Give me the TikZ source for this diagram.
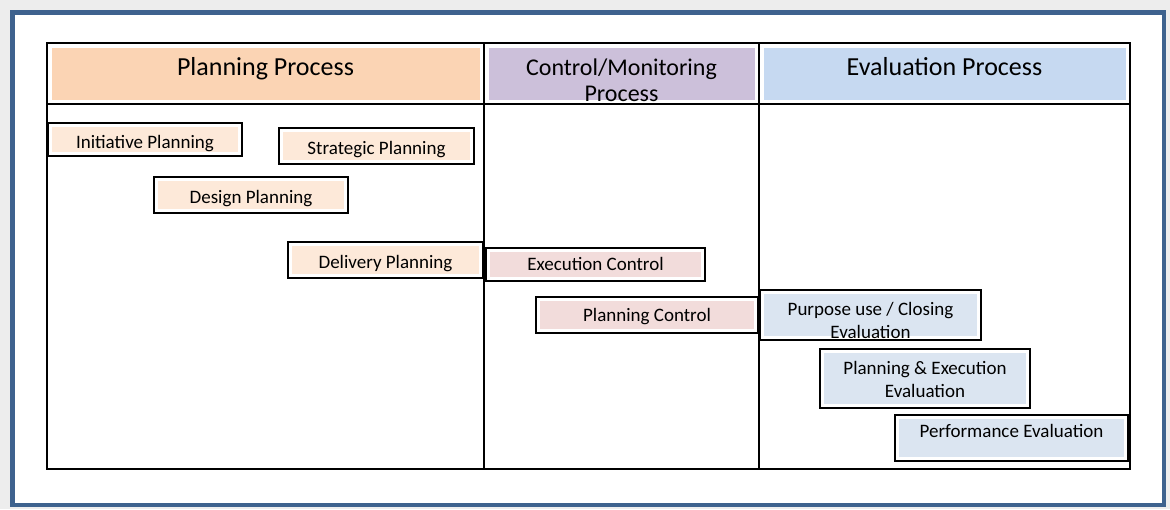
\documentclass[tikz,border=0pt]{standalone}
\usepackage{fontspec}
\setmainfont{Carlito}
\definecolor{planhead}{RGB}{251,212,180}
\definecolor{ctrlhead}{RGB}{204,192,218}
\definecolor{evalhead}{RGB}{198,217,241}
\definecolor{planfill}{RGB}{253,233,217}
\definecolor{ctrlfill}{RGB}{242,220,219}
\definecolor{evalfill}{RGB}{219,229,241}
\definecolor{frameblue}{RGB}{62,98,142}
\newcommand{\insetfill}[2]{\fill[#1] ([shift={(#2,-#2)}]path picture bounding box.north west) rectangle ([shift={(-#2,#2)}]path picture bounding box.south east);}

\begin{document}
\begin{tikzpicture}[x=1pt, y=-1pt]
        \tikzstyle{cell}=[draw, line width=2pt, inner sep=0pt, fill=white]
        \tikzstyle{head}=[cell, minimum height=61pt]
        \tikzstyle{title}=[anchor=base, inner sep=0pt, font=\fontsize{26}{29}\selectfont]
        \tikzstyle{task}=[draw, line width=2.4pt, fill=white, inner sep=0pt, minimum height=36pt, align=center, font=\fontsize{19}{22.5}\selectfont]
        \tikzstyle{planbox}=[task, text height=17pt, text depth=0pt, path picture={\insetfill{planfill}{4pt}}]
        \tikzstyle{ctrlbox}=[task, text height=12.5pt, text depth=0pt, path picture={\insetfill{ctrlfill}{4pt}}]
        \tikzstyle{evalbox}=[task, path picture={\insetfill{evalfill}{4pt}}]

        \useasboundingbox (0,0) rectangle (1170,509);
        \fill[gray!14] (0,0) rectangle (1170,509);
        \draw[frameblue, line width=4.5pt, fill=white] (12.5,12.5) rectangle (1164,505);

        % columns
        \node[cell, minimum width=437pt, minimum height=365pt] (cplan) at (265.5,286.5) {};
        \node[cell, minimum width=275pt, minimum height=365pt] (cctrl) at (621.5,286.5) {};
        \node[cell, minimum width=371pt, minimum height=365pt] (ceval) at (944.5,286.5) {};

        % header row
        \node[head, minimum width=437pt, path picture={\insetfill{planhead}{4.5pt}}] (hplan) at (265.5,73.5) {};
        \node[head, minimum width=275pt, path picture={\insetfill{ctrlhead}{4.5pt}}] (hctrl) at (621.5,73.5) {};
        \node[head, minimum width=371pt, path picture={\insetfill{evalhead}{4.5pt}}] (heval) at (944.5,73.5) {};
        \node[title] (tplan) at (265.5,75) {Planning Process};
        \node[title, align=center, font=\fontsize{24}{26}\selectfont] (tctrl) at (621.5,101) {Control/Monitoring\\Process};
        \node[title] (teval) at (944.5,75) {Evaluation Process};

        % planning tasks
        \node[planbox, minimum width=194pt, minimum height=33pt] (init) at (145,139.5) {Initiative Planning};
        \node[planbox, minimum width=195pt] (strat) at (376.5,146) {Strategic Planning};
        \node[planbox, minimum width=194pt] (design) at (251,195) {Design Planning};
        \node[planbox, minimum width=195pt] (deliv) at (385.5,260) {Delivery Planning};

        % control tasks
        \node[ctrlbox, minimum width=219pt, minimum height=33pt] (exec) at (595.5,264.5) {Execution Control};
        \node[ctrlbox, minimum width=222pt] (planc) at (647,315) {Planning Control};

        % evaluation tasks
        \node[evalbox, minimum width=221pt, minimum height=50pt, text height=46pt, text depth=0pt] (purpose) at (870.5,315) {Purpose use / Closing\\Evaluation};
        \node[evalbox, minimum width=210pt, minimum height=59pt, text height=37pt, text depth=0pt] (plexec) at (925,378.5) {Planning \& Execution\\Evaluation};
        \node[evalbox, minimum width=233pt, minimum height=46pt, text height=4pt, text depth=4.5pt] (perf) at (1011.5,438) {Performance Evaluation};
    \end{tikzpicture}
\end{document}
